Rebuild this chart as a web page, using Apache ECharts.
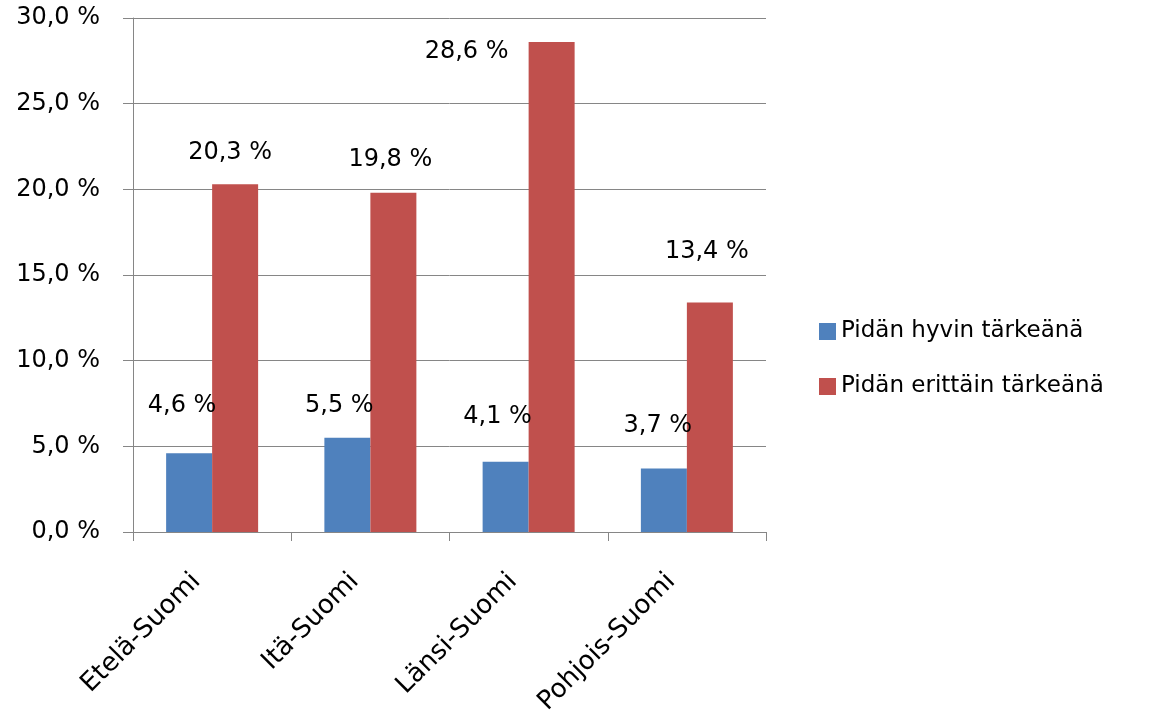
<!DOCTYPE html>
<html>
<head>
<meta charset="utf-8">
<script src="https://cdn.jsdelivr.net/npm/echarts@6/dist/echarts.min.js"></script>
<style>
    html, body { margin: 0; padding: 0; background: #fff; }
    #main { width: 1159px; height: 720px; }
</style>
</head>
<body>
<div id="main"></div>
<script>
// alueet ja prosentit
const regions = ['Etelä-Suomi', 'Itä-Suomi', 'Länsi-Suomi', 'Pohjois-Suomi']
const seriesNames = ['Pidän hyvin tärkeänä', 'Pidän erittäin tärkeänä']
const hyvin = [4.6, 5.5, 4.1, 3.7]
const erittain = [20.3, 19.8, 28.6, 13.4]
const yTicks = [0, 5, 10, 15, 20, 25, 30]

// label nudges, as Excel placed them
const shiftHyvin = [[-7, -35], [-8, -20], [-8, -33], [-6, -31]]
const shiftErittain = [[-5, -19], [-3, -21], [-85, 22], [-3, -39]]

const fmt = (v) => v.toFixed(1).replace('.', ',') + ' %'
const font = 'DejaVu Sans'

function withLabels (values, shifts) {
    return values.map((v, i) => {
        return { value: v, label: { offset: shifts[i] } }
    })
}

const myChart = echarts.init(document.getElementById('main'))
myChart.setOption({
    animation: false,
    textStyle: { fontFamily: font },
    grid: { left: 133, top: 18, width: 633, height: 514, containLabel: false },
    legend: {
        orient: 'vertical',
        left: 814,
        top: 315,
        itemWidth: 17,
        itemHeight: 17,
        itemGap: 32,
        icon: 'rect',
        textStyle: { fontFamily: font, fontSize: 23, color: '#000', padding: [0, 0, 0, 0] },
        data: seriesNames
    },
    xAxis: {
        type: 'category',
        data: regions,
        axisLine: { lineStyle: { color: '#868686', width: 1 } },
        axisTick: { show: true, length: 9, interval: 0, lineStyle: { color: '#868686' } },
        axisLabel: { rotate: 45, interval: 0, margin: 30, padding: [0, 22, 0, 0], fontSize: 26, color: '#000', fontFamily: font }
    },
    yAxis: {
        type: 'value',
        min: yTicks[0],
        max: yTicks[yTicks.length - 1],
        interval: 5,
        axisLine: { show: true, lineStyle: { color: '#868686' } },
        axisTick: { show: true, length: 10, lineStyle: { color: '#868686' } },
        splitLine: { lineStyle: { color: '#868686', width: 1 } },
        axisLabel: { margin: 33, fontSize: 24, color: '#000', fontFamily: font, formatter: fmt }
    },
    series: [
        {
            name: seriesNames[0],
            type: 'bar',
            barWidth: 46,
            barGap: '0%',
            itemStyle: { color: '#4F81BD' },
            label: { show: true, position: 'top', distance: 0, fontSize: 24, color: '#000', fontFamily: font, formatter: (p) => fmt(p.value) },
            data: withLabels(hyvin, shiftHyvin)
        },
        {
            name: seriesNames[1],
            type: 'bar',
            barWidth: 46,
            barGap: '0%',
            itemStyle: { color: '#C0504D' },
            label: { show: true, position: 'top', distance: 0, fontSize: 24, color: '#000', fontFamily: font, formatter: (p) => fmt(p.value) },
            data: withLabels(erittain, shiftErittain)
        }
    ]
})
</script>
</body>
</html>
